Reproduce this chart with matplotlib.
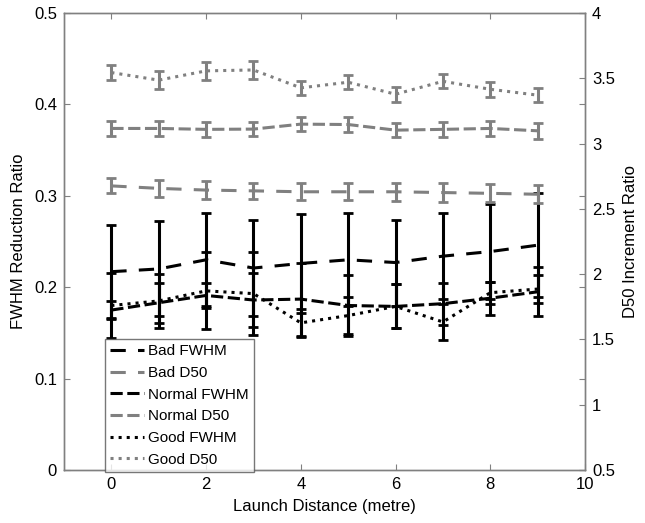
import numpy as np
import matplotlib.pyplot as plt

plt.rcParams['font.family'] = ['Liberation Sans', 'DejaVu Sans']

# launch distances (metre)
distance = [0, 1, 2, 3, 4, 5, 6, 7, 8, 9]

# FWHM reduction ratio (left axis)
bad_fwhm = [0.217, 0.220, 0.230, 0.221, 0.226, 0.230, 0.227, 0.234, 0.239, 0.246]
bad_fwhm_err = [0.051, 0.052, 0.051, 0.053, 0.054, 0.051, 0.047, 0.047, 0.052, 0.057]
normal_fwhm = [0.175, 0.183, 0.191, 0.186, 0.187, 0.180, 0.179, 0.182, 0.188, 0.195]
normal_fwhm_err = [0.010, 0.022, 0.014, 0.030, 0.040, 0.033, 0.024, 0.023, 0.018, 0.027]
good_fwhm = [0.180, 0.185, 0.196, 0.193, 0.161, 0.169, 0.179, 0.162, 0.194, 0.198]
good_fwhm_err = [0.036, 0.030, 0.042, 0.045, 0.015, 0.020, 0.024, 0.020, 0.012, 0.015]

# D50 increment ratio (right axis)
bad_d50 = [2.676, 2.657, 2.644, 2.638, 2.631, 2.631, 2.631, 2.625, 2.619, 2.612]
bad_d50_err = [0.058, 0.064, 0.070, 0.064, 0.064, 0.064, 0.068, 0.070, 0.068, 0.070]
normal_d50 = [3.116, 3.116, 3.109, 3.111, 3.149, 3.146, 3.103, 3.109, 3.116, 3.098]
normal_d50_err = [0.058, 0.055, 0.055, 0.055, 0.055, 0.055, 0.055, 0.055, 0.055, 0.060]
good_d50 = [3.544, 3.486, 3.557, 3.564, 3.427, 3.470, 3.378, 3.477, 3.416, 3.371]
good_d50_err = [0.057, 0.071, 0.070, 0.070, 0.055, 0.055, 0.057, 0.055, 0.057, 0.051]

BLACK = 'black'
GREY = '#808080'
long_dash = (0, (5, 4))
short_dash = (0, (4, 1.5))

fig = plt.figure(figsize=(6.45, 5.23), dpi=100)
ax1 = fig.add_axes([0.0992, 0.1013, 0.8078, 0.8738])
ax2 = ax1.twinx()

eb_kw = dict(linewidth=2.2, elinewidth=2.2, capsize=3.5, capthick=2.0)

h_bad_f = ax1.errorbar(distance, bad_fwhm, yerr=bad_fwhm_err, color=BLACK,
                       linestyle=long_dash, **eb_kw)
h_norm_f = ax1.errorbar(distance, normal_fwhm, yerr=normal_fwhm_err, color=BLACK,
                        linestyle=short_dash, **eb_kw)
h_good_f = ax1.errorbar(distance, good_fwhm, yerr=good_fwhm_err, color=BLACK,
                        linestyle=':', **eb_kw)

h_bad_d = ax2.errorbar(distance, bad_d50, yerr=bad_d50_err, color=GREY,
                       linestyle=long_dash, **eb_kw)
h_norm_d = ax2.errorbar(distance, normal_d50, yerr=normal_d50_err, color=GREY,
                        linestyle=short_dash, **eb_kw)
h_good_d = ax2.errorbar(distance, good_d50, yerr=good_d50_err, color=GREY,
                        linestyle=':', **eb_kw)

ax1.set_xlim(-1, 10)
ax1.set_ylim(0, 0.5)
ax2.set_ylim(0.5, 4)
ax1.set_xticks([0, 2, 4, 6, 8, 10])
ax1.set_yticks([0, 0.1, 0.2, 0.3, 0.4, 0.5])
ax1.set_yticklabels(['0', '0.1', '0.2', '0.3', '0.4', '0.5'])
ax2.set_yticks([0.5, 1, 1.5, 2, 2.5, 3, 3.5, 4])
ax2.set_yticklabels(['0.5', '1', '1.5', '2', '2.5', '3', '3.5', '4'])

for ax in (ax1, ax2):
    for s in ax.spines.values():
        s.set_color(GREY)
        s.set_linewidth(1.0)

ax1.tick_params(direction='in', length=4, width=0.8, color=GREY,
                labelsize=12, top=True, right=True, labelright=False, pad=5)
ax2.tick_params(axis='y', direction='in', length=4, width=0.8, color=GREY,
                labelsize=12, pad=5)

ax1.set_xlabel('Launch Distance (metre)', fontsize=12, labelpad=5)
ax1.set_ylabel('FWHM Reduction Ratio', fontsize=12, labelpad=6)
ax2.set_ylabel('D50 Increment Ratio', fontsize=12, labelpad=6)

handles = [h_bad_f.lines[0], h_bad_d.lines[0], h_norm_f.lines[0],
           h_norm_d.lines[0], h_good_f.lines[0], h_good_d.lines[0]]
labels = ['Bad FWHM', 'Bad D50', 'Normal FWHM', 'Normal D50', 'Good FWHM', 'Good D50']
leg = ax2.legend(handles, labels, loc='lower left', bbox_to_anchor=(0.079, -0.004),
                 borderaxespad=0, fontsize=11, frameon=True, fancybox=False,
                 handlelength=2.2, handletextpad=0.25, labelspacing=0.5,
                 borderpad=0.35)
leg.get_frame().set_edgecolor('#555555')
leg.get_frame().set_linewidth(1.0)

fig.savefig('out.png', dpi=100)
